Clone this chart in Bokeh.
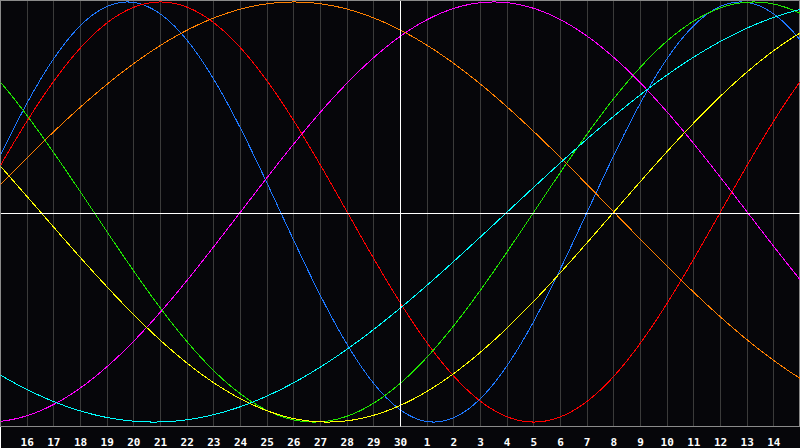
import numpy as np
from bokeh.plotting import figure
from bokeh.models import Range1d, FixedTicker, Span
from bokeh.embed import file_html
from bokeh.resources import INLINE

# ---- data ----
cycle_names = ["Physical", "Emotional", "Intellectual", "Intuitive", "Aesthetic", "Awareness", "Spiritual"]
cycle_days = [23, 28, 33, 38, 43, 48, 53]
days_alive_at_left_edge = 15457          # day 15 of the previous month
today_index = 15                         # the white line (day 30)
day_labels = [16, 17, 18, 19, 20, 21, 22, 23, 24, 25, 26, 27, 28, 29, 30,
              1, 2, 3, 4, 5, 6, 7, 8, 9, 10, 11, 12, 13, 14]
day_positions = list(range(1, 30))

# ---- styles ----
colors = ["#1e78ff", "#ff0000", "#1ee600", "#ff00ff", "#ffff00", "#ff8000", "#00ffff"]
bg = "#06060a"

p = figure(width=800, height=448, output_backend="svg", toolbar_location=None,
           x_range=Range1d(0, 30), y_range=Range1d(-1.0213, 1.0071),
           y_axis_location=None,
           min_border_left=0, min_border_right=0, min_border_top=0, min_border_bottom=20,
           background_fill_color=bg, border_fill_color=bg,
           outline_line_color="#8a8a8a", outline_line_width=1)
p.styles = {"position": "absolute", "left": "0px", "top": "0px",
            "shape-rendering": "crispEdges"}

ticker = FixedTicker(ticks=day_positions)
p.xaxis.ticker = ticker
p.xaxis.major_label_overrides = {pos: str(lab) for pos, lab in zip(day_positions, day_labels)}
p.xaxis.major_tick_line_color = None
p.xaxis.minor_tick_line_color = None
p.xaxis.axis_line_color = "#8a8a8a"
p.xaxis.major_label_text_color = "white"
p.xaxis.major_label_text_font = "DejaVu Sans Mono"
p.xaxis.major_label_text_font_style = "bold"
p.xaxis.major_label_text_font_size = "11px"
p.xaxis.major_label_standoff = 5

p.xgrid.ticker = ticker
p.xgrid.grid_line_color = "#3a3a3a"
p.xgrid.grid_line_width = 1
p.ygrid.visible = False

p.add_layout(Span(location=-0.007, dimension="width", line_color="white", line_width=1))
p.add_layout(Span(location=today_index, dimension="height", line_color="white", line_width=1))

x = np.linspace(0, 30, 1201)
for name, period, col in zip(cycle_names, cycle_days, colors):
    y = np.sin(2 * np.pi * (days_alive_at_left_edge + x) / period)
    p.line(x, y, line_color=col, line_width=1)

open("out.html", "w").write(file_html(p, INLINE))
